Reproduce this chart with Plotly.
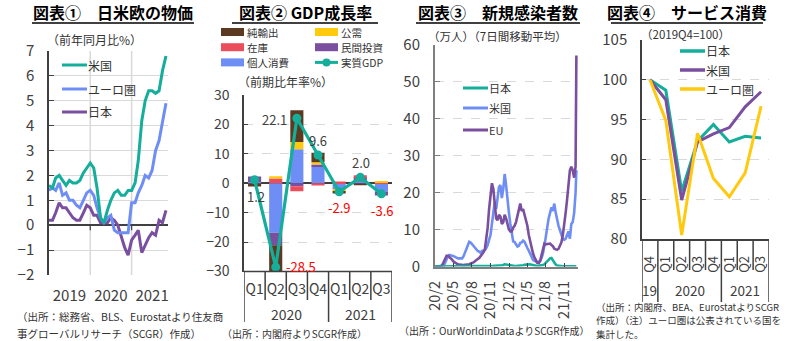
import plotly.graph_objects as go
import pandas as pd

# ---------- 図表① 日米欧の物価（前年同月比%） ----------
cpi_months = pd.date_range("2019-01-01", "2021-11-01", freq="MS")
cpi_us = [1.6, 1.5, 1.9, 2.0, 1.8, 1.6, 1.8, 1.7, 1.7, 1.8, 2.1, 2.3,
          2.5, 2.3, 1.5, 0.3, 0.1, 0.6, 1.0, 1.3, 1.4, 1.2, 1.2, 1.4,
          1.4, 1.7, 2.6, 4.2, 5.0, 5.4, 5.4, 5.3, 5.4, 6.2, 6.8]
cpi_euro = [1.4, 1.5, 1.4, 1.7, 1.2, 1.3, 1.0, 1.0, 0.8, 0.7, 1.0, 1.3,
            1.4, 1.2, 0.7, 0.3, 0.1, 0.3, 0.4, -0.2, -0.3, -0.3, -0.3, -0.3,
            0.9, 0.9, 1.3, 1.6, 2.0, 1.9, 2.2, 3.0, 3.4, 4.1, 4.9]
cpi_jp = [0.2, 0.2, 0.5, 0.9, 0.7, 0.7, 0.5, 0.3, 0.2, 0.2, 0.5, 0.8,
          0.7, 0.4, 0.4, 0.1, 0.1, 0.1, 0.3, 0.2, 0.0, -0.4, -0.9, -1.2,
          -0.6, -0.4, -0.2, -1.1, -0.8, -0.5, -0.3, -0.4, 0.2, 0.1, 0.6]
cpi_year_ticks = ["2019-07-01", "2020-07-01", "2021-07-01"]
cpi_year_labels = ["2019", "2020", "2021"]
cpi_year_bounds = ["2020-01-01", "2021-01-01"]

# ---------- 図表② GDP成長率（前期比年率%、寄与度） ----------
gdp_quarters = ["Q1", "Q2", "Q3", "Q4", "Q1", "Q2", "Q3"]
gdp_years = ["2020", "2021"]
gdp_consumption = [0.4, -16.8, 11.6, 5.8, -2.0, 0.5, -2.8]
gdp_investment = [1.9, -4.3, -1.0, 0.6, 0.0, 1.6, -1.4]
gdp_inventory = [0.0, 1.6, -1.7, -0.8, 0.6, 0.6, 0.2]
gdp_public = [0.0, 0.8, 2.4, 0.7, -0.6, 0.0, 0.4]
gdp_net_exports = [-1.1, -9.8, 10.8, 3.3, -0.9, -0.7, 0.0]
gdp_real = [1.2, -28.5, 22.1, 9.6, -2.9, 2.0, -3.6]

# ---------- 図表③ 新規感染者数（万人、7日間移動平均、週次） ----------
covid_dates = list(pd.date_range("2020-02-02", "2021-12-26", freq="7D")) + [pd.Timestamp("2021-12-30")]
covid_us = [0, 0, 0, 0,
            0.0, 0.03, 0.2, 1.0, 2.0,
            2.8, 3.1, 2.9, 2.9,
            2.8, 2.5, 2.4, 2.2, 2.2,
            2.1, 2.2, 2.8, 3.9,
            5.0, 6.0, 6.7, 6.5,
            6.0, 5.5, 5.2, 4.5, 4.2,
            4.0, 3.7, 4.2, 4.3,
            4.4, 5.0, 5.8, 7.2,
            8.5, 11.5, 15.0, 17.5, 15.5,
            19.5, 21.5, 22.0, 18.5,
            21.0, 25.0, 22.0, 17.5, 14.5,
            11.5, 8.8, 6.8, 6.6,
            6.0, 5.4, 5.6, 6.4,
            6.5, 7.0, 6.7, 5.7,
            5.0, 4.3, 3.3, 2.7, 1.8,
            1.5, 1.3, 1.2, 1.3,
            1.5, 2.3, 3.5, 5.5,
            8.0, 11.0, 13.0, 14.5, 16.0,
            15.0, 17.0, 14.5, 12.5,
            11.0, 9.8, 8.5, 7.5, 7.2,
            7.5, 8.5, 9.5, 7.5,
            11.5, 12.0, 14.5, 20.0,
            26.0]
covid_eu = [0, 0, 0, 0.01,
            0.1, 0.4, 1.3, 2.3, 2.9,
            2.9, 2.6, 2.3, 1.8,
            1.3, 1.0, 0.8, 0.6, 0.5,
            0.4, 0.4, 0.4, 0.45,
            0.45, 0.5, 0.6, 0.8,
            0.9, 1.1, 1.4, 1.8, 2.0,
            2.3, 2.8, 3.2, 3.8,
            4.6, 7.0, 10.5, 15.5,
            20.0, 22.5, 21.0, 17.5, 13.0,
            12.5, 14.0, 13.5, 11.5,
            12.0, 14.0, 13.0, 11.0, 10.0,
            9.5, 9.5, 10.5, 11.0,
            12.0, 14.0, 16.0, 17.0,
            15.0, 15.5, 14.0, 12.5,
            11.0, 8.5, 6.5, 5.0, 3.5,
            2.5, 1.5, 1.0, 0.9,
            1.5, 3.0, 5.0, 6.2,
            6.0, 6.0, 6.2, 6.2, 5.8,
            5.5, 4.8, 4.6, 4.5,
            4.8, 5.5, 6.5, 8.5, 11.0,
            14.5, 18.0, 23.0, 26.0,
            27.0, 26.0, 24.0, 27.0,
            57.0]
covid_jp = [0, 0, 0, 0,
            0, 0, 0.005, 0.01, 0.02,
            0.04, 0.05, 0.05, 0.03,
            0.02, 0.01, 0.005, 0.005, 0.005,
            0.005, 0.005, 0.008, 0.01,
            0.02, 0.04, 0.07, 0.09,
            0.12, 0.13, 0.11, 0.09, 0.07,
            0.06, 0.05, 0.05, 0.05,
            0.05, 0.06, 0.06, 0.06,
            0.07, 0.1, 0.17, 0.22, 0.21,
            0.23, 0.27, 0.3, 0.34,
            0.4, 0.6, 0.55, 0.45, 0.3,
            0.2, 0.14, 0.11, 0.1,
            0.1, 0.12, 0.14, 0.2,
            0.26, 0.36, 0.45, 0.5,
            0.48, 0.6, 0.6, 0.45, 0.33,
            0.25, 0.17, 0.15, 0.17,
            0.2, 0.25, 0.4, 0.6,
            1.0, 1.3, 1.7, 2.2, 2.3,
            1.6, 0.9, 0.5, 0.25,
            0.15, 0.08, 0.05, 0.03, 0.03,
            0.02, 0.015, 0.01, 0.01,
            0.01, 0.012, 0.02, 0.03,
            0.05]
covid_tick_dates = ["2020-02-01", "2020-05-01", "2020-08-01", "2020-11-01",
                    "2021-02-01", "2021-05-01", "2021-08-01", "2021-11-01"]
covid_tick_labels = ["20/2", "20/5", "20/8", "20/11", "21/2", "21/5", "21/8", "21/11"]

# ---------- 図表④ サービス消費（2019Q4=100） ----------
svc_quarters = ["Q4", "Q1", "Q2", "Q3", "Q4", "Q1", "Q2", "Q3"]
svc_years = ["19", "2020", "2021"]
svc_jp = [100, 98.7, 86.0, 92.3, 94.4, 92.2, 92.9, 92.7]
svc_us = [100, 97.5, 84.9, 92.2, 93.2, 94.0, 96.6, 98.5]
svc_euro = [100, 94.9, 80.5, 93.3, 87.6, 85.3, 88.3, 96.7]

# ---------- styling ----------
W, H = 795, 341
FONT = "Noto Sans CJK JP"
TXT = "#333333"
AXIS = "#404040"
GRID = "#D9D9D9"
TEAL = "#14AE9A"
BLUE = "#6E8EF5"
PURPLE = "#7A4F9F"
YELLOW = "#FFC90E"
BROWN = "#5C3A22"
RED = "#EC4D5C"


def px(x):
    return x / W


def py(y):
    return 1 - y / H


shapes = []
annotations = []


def text(x, y, s, size=12, color=TXT, xanchor="center", **kw):
    annotations.append(dict(x=px(x), y=py(y), xref="paper", yref="paper", text=s,
                            showarrow=False, xanchor=xanchor, yanchor="middle",
                            borderpad=0, borderwidth=0,
                            font=dict(family=FONT, size=size, color=color), **kw))


def pline(x0, x1, y0, y1, color, width):
    shapes.append(dict(type="line", xref="paper", yref="paper",
                       x0=px(x0), x1=px(x1), y0=py(y0), y1=py(y1),
                       line=dict(color=color, width=width)))


fig = go.Figure()

# panel 1: CPI lines
for name, vals, col in [("日本", cpi_jp, PURPLE), ("ユーロ圏", cpi_euro, BLUE), ("米国", cpi_us, TEAL)]:
    fig.add_trace(go.Scatter(x=cpi_months, y=vals, name=name, mode="lines",
                             line=dict(color=col, width=3), xaxis="x", yaxis="y"))

# panel 2: stacked contributions + real GDP
qx = list(range(len(gdp_quarters)))
for name, vals, col in [("個人消費", gdp_consumption, BLUE), ("民間投資", gdp_investment, PURPLE),
                        ("在庫", gdp_inventory, RED), ("公需", gdp_public, YELLOW),
                        ("純輸出", gdp_net_exports, BROWN)]:
    fig.add_trace(go.Bar(x=qx, y=vals, name=name, marker=dict(color=col, line=dict(width=0)),
                         width=0.62, xaxis="x2", yaxis="y2"))
fig.add_trace(go.Scatter(x=qx, y=gdp_real, name="実質GDP", mode="lines+markers",
                         line=dict(color=TEAL, width=3.2), marker=dict(color=TEAL, size=9),
                         xaxis="x2", yaxis="y2"))

# panel 3: new cases
for name, vals, col in [("米国", covid_us, BLUE), ("EU", covid_eu, PURPLE), ("日本", covid_jp, TEAL)]:
    fig.add_trace(go.Scatter(x=covid_dates, y=vals, name=name, mode="lines",
                             line=dict(color=col, width=2.6), xaxis="x3", yaxis="y3"))

# panel 4: services consumption
sx = list(range(len(svc_quarters)))
for name, vals, col in [("日本", svc_jp, TEAL), ("米国", svc_us, PURPLE), ("ユーロ圏", svc_euro, YELLOW)]:
    fig.add_trace(go.Scatter(x=sx, y=vals, name=name, mode="lines",
                             line=dict(color=col, width=3), xaxis="x4", yaxis="y4"))

tickfont = dict(family=FONT, size=15, color=AXIS)

# ----- titles (underlined) -----
for cx, x0, x1, s in [(113, 32, 194, "図表①　日米欧の物価"), (305, 232, 378, "図表② GDP成長率"),
                      (498, 416, 580, "図表③　新規感染者数"), (687, 611, 763, "図表④　サービス消費")]:
    text(cx, 12.5, "<b>" + s + "</b>", size=16, color="#000000")
    pline(x0, x1, 23, 23, "#000000", 1.3)

# ----- units -----
text(47, 39, "（前年同月比%）", 12, xanchor="left")
text(238, 81, "（前期比年率%）", 12, xanchor="left")
text(428, 36, "（万人）（7日間移動平均）", 11.5, xanchor="left")
text(641, 33.5, "（2019Q4=100）", 11.5, xanchor="left")

# ----- legends -----
for lab, col, yy in [("米国", TEAL, 65), ("ユーロ圏", BLUE, 89), ("日本", PURPLE, 112)]:
    pline(62, 87, yy, yy, col, 3)
    text(88, yy, lab, 12, xanchor="left")

rows2 = [32, 47.2, 62.4]
for (lab, col), yy in zip([("純輸出", BROWN), ("在庫", RED), ("個人消費", BLUE)], rows2):
    shapes.append(dict(type="rect", xref="paper", yref="paper", x0=px(221), x1=px(244),
                       y0=py(yy + 4), y1=py(yy - 4), fillcolor=col, line=dict(width=0)))
    text(247, yy, lab, 10.5, xanchor="left")
for (lab, col), yy in zip([("公需", YELLOW), ("民間投資", PURPLE)], rows2[:2]):
    shapes.append(dict(type="rect", xref="paper", yref="paper", x0=px(315), x1=px(338),
                       y0=py(yy + 4), y1=py(yy - 4), fillcolor=col, line=dict(width=0)))
    text(341, yy, lab, 10.5, xanchor="left")
pline(315, 338, rows2[2], rows2[2], TEAL, 3)
shapes.append(dict(type="circle", xref="paper", yref="paper", x0=px(322.5), x1=px(330.5),
                   y0=py(rows2[2] + 4), y1=py(rows2[2] - 4), fillcolor=TEAL, line=dict(width=0)))
text(341, rows2[2], "実質GDP", 10.5, xanchor="left")

for lab, col, yy in [("日本", TEAL, 88), ("米国", BLUE, 108), ("EU", PURPLE, 130)]:
    pline(463, 488, yy, yy, col, 3)
    text(489, yy, lab, 11, xanchor="left")

for lab, col, yy in [("日本", TEAL, 51), ("米国", PURPLE, 70), ("ユーロ圏", YELLOW, 89)]:
    pline(680, 705, yy, yy, col, 3.5)
    text(706, yy, lab, 12, xanchor="left")

# ----- sources -----
text(17, 316, "（出所：総務省、BLS、Eurostatより住友商", 10.5, xanchor="left")
text(17, 333, "事グローバルリサーチ（SCGR）作成）", 10.5, xanchor="left")
text(222, 333, "（出所：内閣府よりSCGR作成）", 10, xanchor="left")
text(399, 330, "（出所：OurWorldinDataよりSCGR作成）", 10, xanchor="left")
for yy, line in zip([306.6, 320.4, 334.2],
                    ["（出所：内閣府、BEA、EurostatよりSCGR",
                     "作成）（注）ユーロ圏は公表されている国を",
                     "集計した。"]):
    text(596, yy, line, 9.5, xanchor="left")

# ----- panel 1 extras: year boundaries -----
for d in cpi_year_bounds:
    shapes.append(dict(type="line", xref="x", yref="y", x0=d, x1=d, y0=-2, y1=7,
                       line=dict(color=GRID, width=1.5), layer="below"))
    shapes.append(dict(type="line", xref="x", yref="y", x0=d, x1=d, y0=-0.2, y1=0,
                       line=dict(color=AXIS, width=1.2)))

# ----- panel 2 extras: category dividers, bottom line, year labels, value labels -----
pline(244, 392, 271.5, 271.5, AXIS, 1.5)
for k in range(len(gdp_quarters) + 1):
    xk = k - 0.5
    major = k in (0, 4, len(gdp_quarters))
    shapes.append(dict(type="line", xref="x2", yref="paper", x0=xk, x1=xk,
                       y0=py(271.5), y1=py(322 if major else 300),
                       line=dict(color=AXIS, width=1.5)))
for xv, lab in zip([1.5, 5], gdp_years):
    annotations.append(dict(x=xv, y=py(314), xref="x2", yref="paper", text=lab, showarrow=False,
                            yanchor="middle", borderpad=0, borderwidth=0,
                            font=dict(family=FONT, size=14, color=AXIS)))
label_shift = [(1, -17), (25, 1), (-22, -1), (0, 15), (0, -16), (1, 15), (1, -17)]
for i, v in enumerate(gdp_real):
    dx, dy = label_shift[i]
    annotations.append(dict(x=i, y=v, xref="x2", yref="y2", text=f"{v:.1f}", showarrow=False,
                            xshift=dx, yshift=dy, yanchor="middle", borderpad=0, borderwidth=0,
                            font=dict(family=FONT, size=13, color=AXIS if v > 0 else "#FF0000")))

# ----- panel 4 extras -----
for k in range(len(svc_quarters) + 1):
    xk = k - 0.5
    major = k in (0, 1, 5, len(svc_quarters))
    shapes.append(dict(type="line", xref="x4", yref="paper", x0=xk, x1=xk,
                       y0=py(239), y1=py(302 if major else 270),
                       line=dict(color=AXIS, width=1.5)))
for xv, lab in zip([0, 2.5, 6], svc_years):
    annotations.append(dict(x=xv, y=py(290), xref="x4", yref="paper", text=lab, showarrow=False,
                            yanchor="middle", borderpad=0, borderwidth=0,
                            font=dict(family=FONT, size=13.5, color=AXIS)))

fig.update_layout(
    width=W, height=H, margin=dict(l=0, r=0, t=0, b=0, pad=0),
    paper_bgcolor="white", plot_bgcolor="white",
    barmode="relative", showlegend=False,
    font=dict(family=FONT, color=AXIS),
    shapes=shapes, annotations=annotations,
    # panel 1
    xaxis=dict(domain=[px(49), px(168)], type="date", range=["2019-01-01", "2021-11-19"],
               tickvals=cpi_year_ticks, ticktext=cpi_year_labels, ticks="", showgrid=False,
               showline=False, zeroline=False, tickfont=tickfont, anchor="y",
               ticklabelstandoff=10, automargin=False),
    yaxis=dict(domain=[py(275), py(51)], range=[-2, 7], dtick=1, showgrid=True,
               gridcolor=GRID, gridwidth=1.2, showline=True, linecolor=AXIS, linewidth=1.5,
               ticks="inside", ticklen=5, tickcolor=AXIS, tickfont=tickfont,
               zeroline=True, zerolinecolor=AXIS, zerolinewidth=1.5, anchor="x",
               ticklabelstandoff=10, automargin=False),
    # panel 2
    xaxis2=dict(domain=[px(244), px(392)], range=[-0.5, len(gdp_quarters) - 0.5],
                tickvals=qx, ticktext=gdp_quarters, ticks="", showgrid=False, showline=False,
                zeroline=False, tickfont=dict(family=FONT, size=14, color=AXIS), anchor="y2",
                ticklabelstandoff=7, automargin=False),
    yaxis2=dict(domain=[py(271.5), py(95)], range=[-30, 30], dtick=10, showgrid=True,
                gridcolor=GRID, griddash="dash", gridwidth=1.2, showline=True, linecolor=AXIS,
                linewidth=1.5, ticks="inside", ticklen=4, tickcolor=AXIS,
                tickfont=dict(family=FONT, size=14, color=AXIS), zeroline=True,
                zerolinecolor=AXIS, zerolinewidth=1.5, anchor="x2", ticklabelstandoff=10,
                automargin=False),
    # panel 3
    xaxis3=dict(domain=[px(435), px(578)], type="date", range=["2020-02-01", "2022-01-07"],
                tickvals=covid_tick_dates, ticktext=covid_tick_labels, tickangle=-90,
                ticks="inside", ticklen=4, tickcolor=AXIS, showgrid=False, showline=True,
                linecolor="#7F7F7F", linewidth=1.5, zeroline=False,
                tickfont=dict(family=FONT, size=14.5, color=AXIS), anchor="y3",
                ticklabelstandoff=7, automargin=False),
    yaxis3=dict(domain=[py(266.5), py(44.5)], range=[0, 60], dtick=10, showgrid=True,
                gridcolor=GRID, griddash="dash", gridwidth=1.2, showline=True,
                linecolor="#7F7F7F", linewidth=2, ticks="inside", ticklen=5,
                tickcolor="#7F7F7F", tickfont=tickfont, zeroline=False, anchor="x3",
                ticklabelstandoff=10, automargin=False),
    # panel 4
    xaxis4=dict(domain=[px(642), px(769)], range=[-0.5, len(svc_quarters) - 0.5],
                tickvals=sx, ticktext=svc_quarters, tickangle=-90, ticks="", showgrid=False,
                showline=True, linecolor=AXIS, linewidth=1.5, zeroline=False,
                tickfont=dict(family=FONT, size=13, color=AXIS), anchor="y4",
                ticklabelstandoff=10, automargin=False),
    yaxis4=dict(domain=[py(239), py(40)], range=[80, 105], dtick=5, showgrid=True,
                gridcolor=GRID, griddash="dash", gridwidth=1.2, showline=True, linecolor=AXIS,
                linewidth=1.5, ticks="inside", ticklen=4, tickcolor=AXIS, tickfont=tickfont,
                zeroline=False, anchor="x4", ticklabelstandoff=10, automargin=False),
)

fig.write_html("out.html")
